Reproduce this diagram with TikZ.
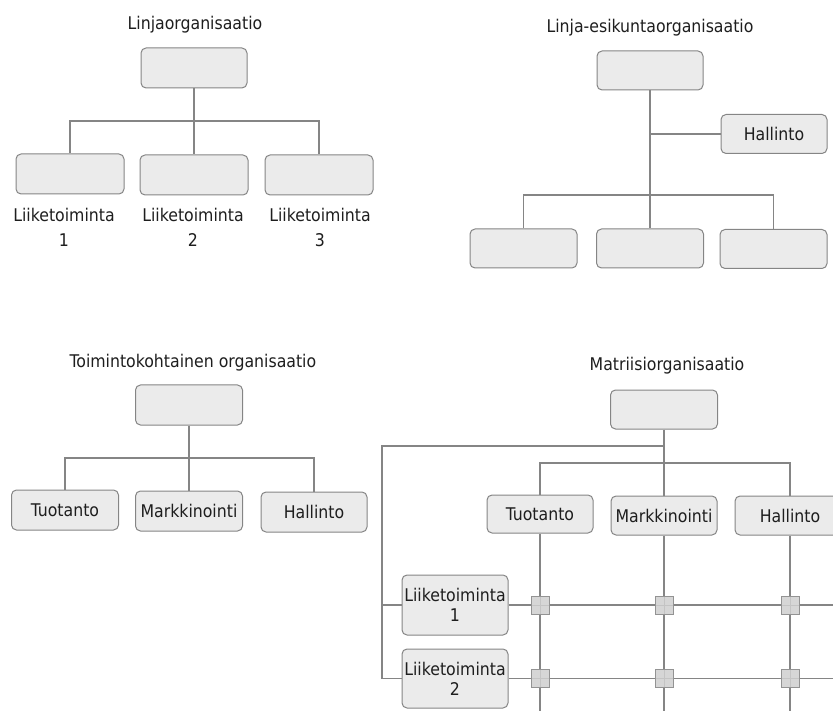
\documentclass[tikz,border=0pt]{standalone}
\usepackage{fontspec}
\setmainfont{DejaVu Sans Condensed}
\definecolor{linec}{HTML}{858585}
\definecolor{boxline}{HTML}{858585}
\definecolor{boxfill}{HTML}{EBEBEB}
\definecolor{txt}{HTML}{1E1E1E}
\definecolor{sqline}{HTML}{939393}
\definecolor{sqfill}{HTML}{D6D6D6}
\newcommand\diafont{\fontsize{17.5}{20}\selectfont}
\begin{document}
\begin{tikzpicture}[x=1pt,y=-1pt,
  box/.style={draw=boxline, fill=boxfill, rounded corners=5pt, line width=1pt, inner sep=0pt,
    minimum width=106pt, minimum height=40pt, font=\diafont, text=txt, align=center},
  conn/.style={draw=linec, line width=1.3pt},
  lbl/.style={font=\diafont, text=txt, align=center, inner sep=0pt},
  sq/.style={draw=sqline, fill=sqfill, line width=1pt, minimum size=18pt, inner sep=0pt,
    path picture={\draw[sqline!55!white, line width=0.7pt]
      (path picture bounding box.north) -- (path picture bounding box.south)
      (path picture bounding box.west) -- (path picture bounding box.east);}}]
\useasboundingbox (0,0) rectangle (833,711);
\clip (0,0) rectangle (833,711);

% ---------- Panel 1: Linjaorganisaatio ----------
\node[lbl] (t1) at (195,25) {Linjaorganisaatio};
\node[box] (a0) at (194,68) {};
\node[box, minimum width=108pt] (a1) at (70,174) {};
\node[box, minimum width=108pt] (a2) at (194,175) {};
\node[box, minimum width=108pt] (a3) at (319,175) {};
\node[lbl] (l1) at (64,227) {Liiketoiminta\\[5pt]1};
\node[lbl] (l2) at (193,227) {Liiketoiminta\\[5pt]2};
\node[lbl] (l3) at (320,227) {Liiketoiminta\\[5pt]3};
\coordinate (bus1) at (194,121);
\draw[conn] (a0.south) -- (a2.north);
\draw[conn] (a1.north) |- (bus1) -| (a3.north);

% ---------- Panel 2: Linja-esikuntaorganisaatio ----------
\node[lbl] (t2) at (650,28) {Linja-esikuntaorganisaatio};
\node[box, minimum height=39pt] (b0) at (650,70.5) {};
\node[box, minimum height=39pt] (bh) at (774,134) {Hallinto};
\node[box, minimum width=107pt, minimum height=39pt] (b1) at (523.5,248.5) {};
\node[box, minimum width=107pt, minimum height=39pt] (b2) at (650,248.5) {};
\node[box, minimum width=107pt, minimum height=39pt] (b3) at (773.5,249) {};
\coordinate (bus2) at (650,195);
\draw[conn] (b0.south) -- (b2.north);
\draw[conn] (bh.west) -- (bh.west -| b0.south);
\draw[conn] (b1.north) |- (bus2) -| (b3.north);

% ---------- Panel 3: Toimintokohtainen organisaatio ----------
\node[lbl] (t3) at (193,363) {Toimintokohtainen organisaatio};
\node[box, minimum width=107pt] (c0) at (189,405) {};
\node[box, minimum width=107pt] (c1) at (65,510) {Tuotanto};
\node[box, minimum width=107pt] (c2) at (189,511) {Markkinointi};
\node[box, minimum width=106pt] (c3) at (314,512) {Hallinto};
\coordinate (bus3) at (189,458);
\draw[conn] (c0.south) -- (c2.north);
\draw[conn] (c1.north) |- (bus3) -| (c3.north);

% ---------- Panel 4: Matriisiorganisaatio ----------
\node[lbl] (t4) at (667,366) {Matriisiorganisaatio};
\node[box, minimum width=107pt, minimum height=39pt] (d0) at (664,409.5) {};
\node[box, minimum height=38pt] (d1) at (540,514) {Tuotanto};
\node[box, minimum height=39pt] (d2) at (664,515.5) {Markkinointi};
\node[box, minimum width=110pt, minimum height=39pt] (d3) at (790,515.5) {Hallinto};
\node[box, minimum height=60pt] (e1) at (455,605) {Liiketoiminta\\1};
\node[box, minimum height=59pt] (e2) at (455,678.5) {Liiketoiminta\\2};

\coordinate (o1) at (382,446);
\coordinate (bus4) at (664,463);
\coordinate (bot) at (0,716);
\coordinate (rt) at (840,0);
\draw[conn] (d0.south) -- (d2.north);
\draw[conn] (d0.south |- o1) -- (o1) |- (e2.west);
\draw[conn] (o1 |- e1.west) -- (e1.west);
\draw[conn] (d1.north) |- (bus4) -| (d3.north);
\draw[conn] (d1.south) -- (d1.south |- bot);
\draw[conn] (d2.south) -- (d2.south |- bot);
\draw[conn] (d3.south) -- (d3.south |- bot);
\draw[conn] (e1.east) -- (e1.east -| rt);
\draw[conn] (e2.east) -- (e2.east -| rt);

\node[sq] (s11) at (d1.south |- e1.east) {};
\node[sq] (s12) at (d2.south |- e1.east) {};
\node[sq] (s13) at (d3.south |- e1.east) {};
\node[sq] (s21) at (d1.south |- e2.east) {};
\node[sq] (s22) at (d2.south |- e2.east) {};
\node[sq] (s23) at (d3.south |- e2.east) {};
\end{tikzpicture}
\end{document}
